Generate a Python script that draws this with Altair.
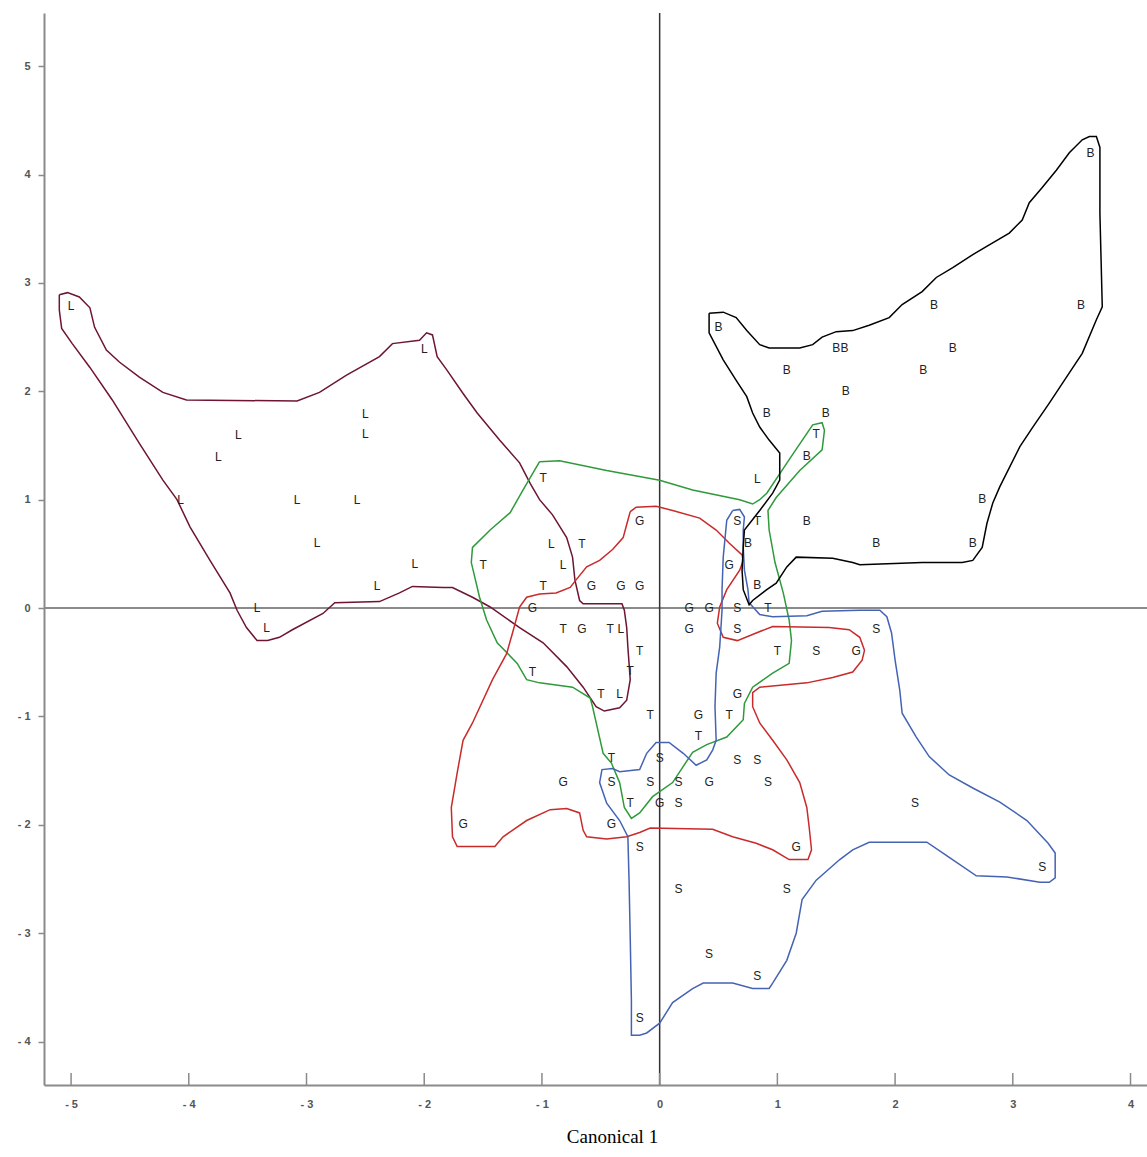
import altair as alt
import pandas as pd

# ---- canonical scores (Canonical 1 = x, Canonical 2 = y), one list per group ----
L_X = [-5.00, -2.00, -2.50, -2.50, -3.58, -3.75, -4.07, -3.08, -2.57, -2.91, -2.08, -2.40, -3.42, -3.34, -0.92, -0.82, -0.33, -0.34, 0.83]
L_Y = [2.79, 2.39, 1.79, 1.61, 1.60, 1.39, 1.00, 1.00, 1.00, 0.60, 0.41, 0.20, 0.00, -0.18, 0.59, 0.40, -0.19, -0.79, 1.19]

T_X = [-0.99, -1.50, -0.66, -0.99, -0.82, -0.42, -0.17, -0.25, -1.08, -0.50, -0.08, 0.59, 0.33, -0.41, -0.25, 0.92, 1.00, 0.83, 1.33]
T_Y = [1.20, 0.40, 0.59, 0.20, -0.19, -0.19, -0.40, -0.58, -0.59, -0.79, -0.99, -0.99, -1.18, -1.38, -1.80, 0.00, -0.40, 0.80, 1.61]

G_X = [-0.17, -0.58, -0.33, -0.17, -1.08, -0.66, 0.25, 0.42, 0.25, 0.59, 0.66, 0.33, 1.67, -0.82, 0.42, 0.00, -1.67, -0.41, 1.16]
G_Y = [0.80, 0.20, 0.20, 0.20, 0.00, -0.19, 0.00, 0.00, -0.19, 0.40, -0.79, -0.99, -0.40, -1.60, -1.60, -1.80, -1.99, -1.99, -2.20]

S_X = [0.66, 0.66, 0.66, 1.33, 1.84, 0.00, 0.66, 0.83, -0.41, -0.08, 0.16, 0.92, 0.16, -0.17, 0.16, 1.08, 2.17, 3.25, 0.42, 0.83, -0.17]
S_Y = [0.80, 0.00, -0.19, -0.40, -0.19, -1.38, -1.40, -1.40, -1.60, -1.60, -1.60, -1.60, -1.80, -2.20, -2.59, -2.59, -1.80, -2.39, -3.19, -3.39, -3.78]

B_X = [3.66, 2.33, 3.58, 0.50, 1.50, 1.57, 2.49, 1.08, 2.24, 1.58, 0.91, 1.41, 1.25, 1.25, 1.84, 2.66, 2.74, 0.75, 0.83]
B_Y = [4.20, 2.80, 2.80, 2.59, 2.40, 2.40, 2.40, 2.20, 2.20, 2.00, 1.80, 1.80, 1.40, 0.80, 0.60, 0.60, 1.01, 0.60, 0.21]

# ---- outlines drawn around each group ----
HULL_L_X = [-5.10, -5.03, -4.93, -4.84, -4.80, -4.70, -4.59, -4.42, -4.22, -4.02, -3.08, -2.89, -2.66, -2.38, -2.27, -2.04, -1.98, -1.93, -1.89, -1.81,
            -1.67, -1.55, -1.36, -1.19, -1.10, -1.02, -0.91, -0.79, -0.74, -0.72, -0.68, -0.65, -0.32, -0.30, -0.28, -0.27, -0.25, -0.28, -0.34, -0.47,
            -0.54, -0.65, -0.79, -0.99, -1.19, -1.44, -1.59, -1.76, -1.84, -2.10, -2.21, -2.38, -2.76, -2.86, -3.12, -3.23, -3.33, -3.42, -3.51, -3.59,
            -3.65, -3.82, -3.99, -4.10, -4.22, -4.42, -4.65, -4.84, -4.99, -5.08, -5.10]
HULL_L_Y = [2.89, 2.91, 2.87, 2.77, 2.59, 2.38, 2.27, 2.13, 1.99, 1.92, 1.91, 1.99, 2.15, 2.32, 2.44, 2.47, 2.54, 2.52, 2.32, 2.20,
            1.98, 1.80, 1.55, 1.34, 1.15, 1.00, 0.86, 0.65, 0.47, 0.26, 0.07, 0.04, 0.04, -0.02, -0.18, -0.36, -0.66, -0.85, -0.92, -0.95,
            -0.91, -0.73, -0.54, -0.32, -0.18, 0.01, 0.10, 0.19, 0.19, 0.20, 0.14, 0.06, 0.05, -0.05, -0.20, -0.27, -0.30, -0.30, -0.18, -0.02,
            0.14, 0.44, 0.75, 1.00, 1.18, 1.52, 1.92, 2.22, 2.44, 2.58, 2.75]

HULL_T_X = [-1.02, -0.85, -0.45, 0.00, 0.28, 0.68, 0.79, 0.85, 0.91, 1.10, 1.30, 1.38, 1.40, 1.38, 1.19, 0.99, 0.92, 0.93, 0.98, 1.05,
            1.10, 1.12, 1.10, 0.96, 0.79, 0.72, 0.71, 0.57, 0.40, 0.28, 0.11, -0.06, -0.17, -0.24, -0.30, -0.34, -0.41, -0.48, -0.57, -0.59,
            -0.74, -1.02, -1.13, -1.21, -1.38, -1.47, -1.53, -1.60, -1.59, -1.44, -1.27, -1.16]
HULL_T_Y = [1.35, 1.36, 1.27, 1.18, 1.09, 1.00, 0.96, 1.00, 1.06, 1.37, 1.69, 1.71, 1.64, 1.46, 1.27, 1.02, 0.90, 0.72, 0.42, 0.14,
            -0.11, -0.30, -0.51, -0.60, -0.73, -0.88, -1.03, -1.19, -1.26, -1.33, -1.61, -1.74, -1.89, -1.94, -1.84, -1.61, -1.43, -1.34, -0.91, -0.83,
            -0.73, -0.69, -0.66, -0.51, -0.32, -0.11, 0.10, 0.42, 0.56, 0.72, 0.88, 1.09]

HULL_G_X = [-0.25, -0.20, -0.03, 0.11, 0.34, 0.48, 0.59, 0.70, 0.71, 0.68, 0.57, 0.51, 0.49, 0.54, 0.66, 0.82, 0.96, 1.44, 1.61, 1.70,
            1.74, 1.72, 1.64, 1.47, 1.25, 0.85, 0.79, 0.79, 0.85, 0.96, 1.08, 1.19, 1.25, 1.27, 1.29, 1.26, 1.10, 0.96, 0.82, 0.62,
            0.45, -0.08, -0.17, -0.28, -0.45, -0.62, -0.65, -0.68, -0.79, -0.93, -1.13, -1.33, -1.40, -1.72, -1.76, -1.77, -1.72, -1.67, -1.59, -1.42,
            -1.30, -1.25, -1.19, -1.13, -1.02, -0.88, -0.76, -0.71, -0.62, -0.51, -0.40, -0.31, -0.27]
HULL_G_Y = [0.89, 0.93, 0.94, 0.90, 0.83, 0.72, 0.60, 0.49, 0.44, 0.35, 0.17, 0.01, -0.14, -0.27, -0.30, -0.23, -0.17, -0.18, -0.20, -0.27,
            -0.39, -0.48, -0.59, -0.64, -0.69, -0.73, -0.78, -0.91, -1.06, -1.22, -1.40, -1.61, -1.84, -2.02, -2.23, -2.32, -2.32, -2.23, -2.17, -2.11,
            -2.04, -2.03, -2.07, -2.11, -2.13, -2.11, -2.05, -1.89, -1.85, -1.86, -1.96, -2.11, -2.20, -2.20, -2.11, -1.84, -1.52, -1.22, -1.06, -0.66,
            -0.42, -0.23, 0.01, 0.10, 0.13, 0.14, 0.19, 0.26, 0.38, 0.44, 0.54, 0.65, 0.81]

HULL_S_X = [0.62, 0.68, 0.72, 0.71, 0.71, 0.72, 0.75, 0.76, 0.85, 0.96, 1.25, 1.38, 1.70, 1.87, 1.93, 1.97, 2.00, 2.04, 2.06, 2.18,
            2.29, 2.46, 2.66, 2.89, 3.12, 3.30, 3.36, 3.36, 3.31, 3.23, 2.95, 2.69, 2.46, 2.27, 1.78, 1.64, 1.53, 1.33, 1.21, 1.16,
            1.08, 0.96, 0.93, 0.79, 0.62, 0.37, 0.28, 0.11, 0.00, -0.11, -0.17, -0.24, -0.24, -0.25, -0.26, -0.27, -0.34, -0.45, -0.51, -0.49,
            -0.40, -0.34, -0.17, -0.11, -0.03, 0.08, 0.20, 0.31, 0.40, 0.45, 0.48, 0.47, 0.48, 0.51, 0.53, 0.53, 0.54, 0.57]
HULL_S_Y = [0.90, 0.91, 0.84, 0.72, 0.56, 0.35, 0.17, 0.05, -0.06, -0.08, -0.07, -0.03, -0.02, -0.02, -0.08, -0.23, -0.48, -0.76, -0.97, -1.19,
            -1.37, -1.54, -1.66, -1.79, -1.96, -2.17, -2.26, -2.49, -2.53, -2.53, -2.48, -2.47, -2.30, -2.16, -2.16, -2.23, -2.32, -2.51, -2.69, -3.00,
            -3.25, -3.46, -3.51, -3.51, -3.46, -3.46, -3.51, -3.64, -3.83, -3.92, -3.94, -3.94, -3.62, -3.04, -2.51, -2.11, -1.96, -1.80, -1.61, -1.49,
            -1.48, -1.51, -1.49, -1.34, -1.24, -1.24, -1.34, -1.45, -1.40, -1.31, -1.22, -0.91, -0.60, -0.36, -0.02, 0.17, 0.47, 0.81]

HULL_B_X = [0.42, 0.54, 0.65, 0.74, 0.85, 0.93, 1.19, 1.30, 1.38, 1.50, 1.64, 1.78, 1.95, 2.06, 2.23, 2.35, 2.49, 2.66, 2.80, 2.97,
            3.08, 3.14, 3.25, 3.37, 3.48, 3.59, 3.65, 3.71, 3.74, 3.74, 3.76, 3.71, 3.59, 3.48, 3.31, 3.17, 3.06, 2.89, 2.83, 2.78,
            2.74, 2.66, 2.57, 2.23, 1.70, 1.64, 1.47, 1.16, 1.08, 0.99, 0.91, 0.79, 0.76, 0.71, 0.70, 0.71, 0.72, 0.85, 0.96, 1.02,
            1.02, 0.93, 0.85, 0.79, 0.74, 0.65, 0.54, 0.42]
HULL_B_Y = [2.72, 2.73, 2.68, 2.56, 2.43, 2.40, 2.40, 2.43, 2.50, 2.55, 2.56, 2.61, 2.68, 2.80, 2.92, 3.05, 3.14, 3.26, 3.35, 3.46,
            3.58, 3.74, 3.88, 4.04, 4.20, 4.32, 4.35, 4.35, 4.25, 3.64, 2.78, 2.66, 2.35, 2.17, 1.89, 1.67, 1.49, 1.12, 0.97, 0.78,
            0.56, 0.44, 0.42, 0.42, 0.40, 0.42, 0.46, 0.47, 0.38, 0.23, 0.17, 0.07, 0.03, 0.17, 0.35, 0.56, 0.72, 0.90, 1.06, 1.18,
            1.43, 1.55, 1.67, 1.80, 1.95, 2.10, 2.29, 2.54]

GROUPS = ["L", "T", "G", "S", "B"]
HULL_COLORS = ["#6e1434", "#2f9a3c", "#c92a2a", "#4563b4", "#000000"]
X_TICKS = [-5, -4, -3, -2, -1, 0, 1, 2, 3, 4]
Y_TICKS = [-4, -3, -2, -1, 0, 1, 2, 3, 4, 5]

X_DOMAIN = [-5.23, 4.14]
Y_DOMAIN = [-4.40, 5.49]
W, H = 1103, 1072

pts_src = {"L": (L_X, L_Y), "T": (T_X, T_Y), "G": (G_X, G_Y), "S": (S_X, S_Y), "B": (B_X, B_Y)}
hull_src = {"L": (HULL_L_X, HULL_L_Y), "T": (HULL_T_X, HULL_T_Y), "G": (HULL_G_X, HULL_G_Y),
            "S": (HULL_S_X, HULL_S_Y), "B": (HULL_B_X, HULL_B_Y)}

points = pd.DataFrame([
    {"group": g, "x": x, "y": y}
    for g, (xs, ys) in pts_src.items() for x, y in zip(xs, ys)
])

hull_rows = []
for g, (xs, ys) in hull_src.items():
    ring = list(zip(xs, ys)) + [(xs[0], ys[0])]  # close the outline
    for i, (x, y) in enumerate(ring):
        hull_rows.append({"group": g, "idx": i, "x": x, "y": y})
hulls = pd.DataFrame(hull_rows)

x_scale = alt.Scale(domain=X_DOMAIN, nice=False, zero=False)
y_scale = alt.Scale(domain=Y_DOMAIN, nice=False, zero=False)

# integer labels written with a plain hyphen for negatives
LABEL_EXPR = "datum.value < 0 ? '- ' + format(-datum.value, 'd') : format(datum.value, 'd')"

x_axis = alt.Axis(values=X_TICKS, ticks=False, grid=False, domainColor="#8a8a8a", domainWidth=2,
                  labelExpr=LABEL_EXPR,
                  labelFont="Liberation Sans", labelFontSize=11, labelFontWeight="bold",
                  labelColor="#555555", labelPadding=13,
                  title="Canonical 1", titleFont="Liberation Serif", titleFontSize=19,
                  titleFontWeight="normal", titleColor="#000000", titleX=568, titleY=42,
                  titleAlign="center", titleBaseline="top")
y_axis = alt.Axis(values=Y_TICKS, grid=False, domainColor="#8a8a8a", domainWidth=2,
                  tickColor="#8a8a8a", tickSize=6, tickWidth=1.5,
                  labelExpr=LABEL_EXPR,
                  labelFont="Liberation Sans", labelFontSize=11, labelFontWeight="bold",
                  labelColor="#555555", labelPadding=8,
                  title=None)

hull_layer = alt.Chart(hulls).mark_line(strokeWidth=1.5, clip=True).encode(
    x=alt.X("x:Q", scale=x_scale, axis=x_axis),
    y=alt.Y("y:Q", scale=y_scale, axis=y_axis),
    detail="group:N",
    order="idx:Q",
    color=alt.Color("group:N", scale=alt.Scale(domain=GROUPS, range=HULL_COLORS), legend=None),
)

zero_h = alt.Chart(pd.DataFrame({"v": [0]})).mark_rule(color="#8a8a8a", strokeWidth=2).encode(
    y=alt.Y("v:Q", scale=y_scale)
)
zero_v = alt.Chart(pd.DataFrame({"v": [0]})).mark_rule(color="#333333", strokeWidth=1.5).encode(
    x=alt.X("v:Q", scale=x_scale)
)

# x ticks point upward into the plot
x_ticks = alt.Chart(pd.DataFrame({"t": X_TICKS})).mark_rule(color="#8a8a8a", strokeWidth=1.5).encode(
    x=alt.X("t:Q", scale=x_scale),
    y=alt.value(H),
    y2=alt.value(H - 12),
)

letters = alt.Chart(points).mark_text(font="Liberation Sans", fontSize=12, color="#222222",
                                      align="center", baseline="middle").encode(
    x=alt.X("x:Q", scale=x_scale),
    y=alt.Y("y:Q", scale=y_scale),
    text="group:N",
)

chart = alt.layer(zero_h, zero_v, x_ticks, hull_layer, letters).properties(
    width=W, height=H,
    background="#ffffff",
    autosize=alt.AutoSizeParams(type="none"),
    padding={"left": 44, "top": 13, "right": 0, "bottom": 72},
).configure_view(strokeWidth=0)

chart.save("out.html", embed_options={"renderer": "svg", "actions": False})
